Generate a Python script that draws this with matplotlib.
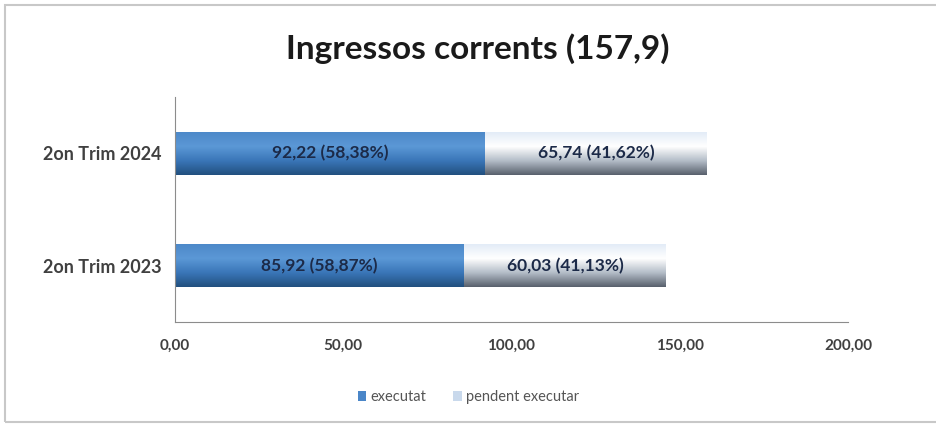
import numpy as np
import matplotlib.pyplot as plt
from matplotlib.colors import LinearSegmentedColormap
from matplotlib.patches import Rectangle

categories = ['2on Trim 2023', '2on Trim 2024']
executat = [85.92, 92.22]
pendent = [60.03, 65.74]
executat_labels = ['85,92 (58,87%)', '92,22 (58,38%)']
pendent_labels = ['60,03 (41,13%)', '65,74 (41,62%)']
xticks = [0, 50, 100, 150, 200]
xtick_labels = ['0,00', '50,00', '100,00', '150,00', '200,00']

plt.rcParams['font.family'] = ['Lato', 'DejaVu Sans']

fig = plt.figure(figsize=(9.37, 4.26), dpi=100)
fig.patches.append(Rectangle((0.005, 0.01), 1.2, 0.978, transform=fig.transFigure,
                             fill=False, edgecolor='#c8c8c8', linewidth=1.5))
ax = fig.add_axes([0.1868, 0.2441, 0.7182, 0.5282])

blue_cmap = LinearSegmentedColormap.from_list('b', ['#22507f', '#3a76b8', '#5b98d6', '#4d89c9'])
light_cmap = LinearSegmentedColormap.from_list('l', ['#59616d', '#b4bdc8', '#ffffff', '#e3ecf7'])
grad = np.linspace(0, 1, 100).reshape(-1, 1)

h = 0.38
y = np.arange(len(categories))
b1 = ax.barh(y, executat, height=h, color='#4a86c8', label='executat')
b2 = ax.barh(y, pendent, left=executat, height=h, color='#c9d9ec', label='pendent executar')

for bars, cmap in ((b1, blue_cmap), (b2, light_cmap)):
    for p in bars:
        x0, y0 = p.get_x(), p.get_y()
        im = ax.imshow(grad, cmap=cmap, aspect='auto', origin='lower',
                       extent=[x0, x0 + p.get_width(), y0, y0 + p.get_height()], zorder=2)
        im.set_clip_path(p)

for i in range(len(categories)):
    ax.text(executat[i] / 2, y[i], executat_labels[i], ha='center', va='center',
            fontsize=12.5, fontweight='bold', color='#1c2a48', zorder=3)
    ax.text(executat[i] + pendent[i] / 2, y[i], pendent_labels[i], ha='center', va='center',
            fontsize=12.5, fontweight='bold', color='#1c2a48', zorder=3)

ax.set_xlim(0, 200)
ax.set_ylim(-0.5, 1.5)
ax.set_xticks(xticks)
ax.set_xticklabels(xtick_labels, fontsize=11, fontweight='bold', color='#404040')
ax.set_yticks(y)
ax.set_yticklabels(categories, fontsize=13, fontweight='bold', color='#404040')
ax.tick_params(axis='both', length=0, pad=12)
ax.tick_params(axis='y', pad=10)
for s in ('top', 'right'):
    ax.spines[s].set_visible(False)
for s in ('left', 'bottom'):
    ax.spines[s].set_color('#8c8c8c')

fig.text(0.51, 0.885, 'Ingressos corrents (157,9)', ha='center', va='center',
         fontsize=24, fontweight='bold', color='#1a1a1a')

leg = fig.legend(handles=[b1, b2], loc='center', bbox_to_anchor=(0.5, 0.068), ncol=2,
                 frameon=False, fontsize=10.5, handlelength=0.6, handleheight=0.6,
                 handletextpad=0.3, columnspacing=1.8)
for t in leg.get_texts():
    t.set_color('#555555')

fig.savefig('out.png', dpi=100)
